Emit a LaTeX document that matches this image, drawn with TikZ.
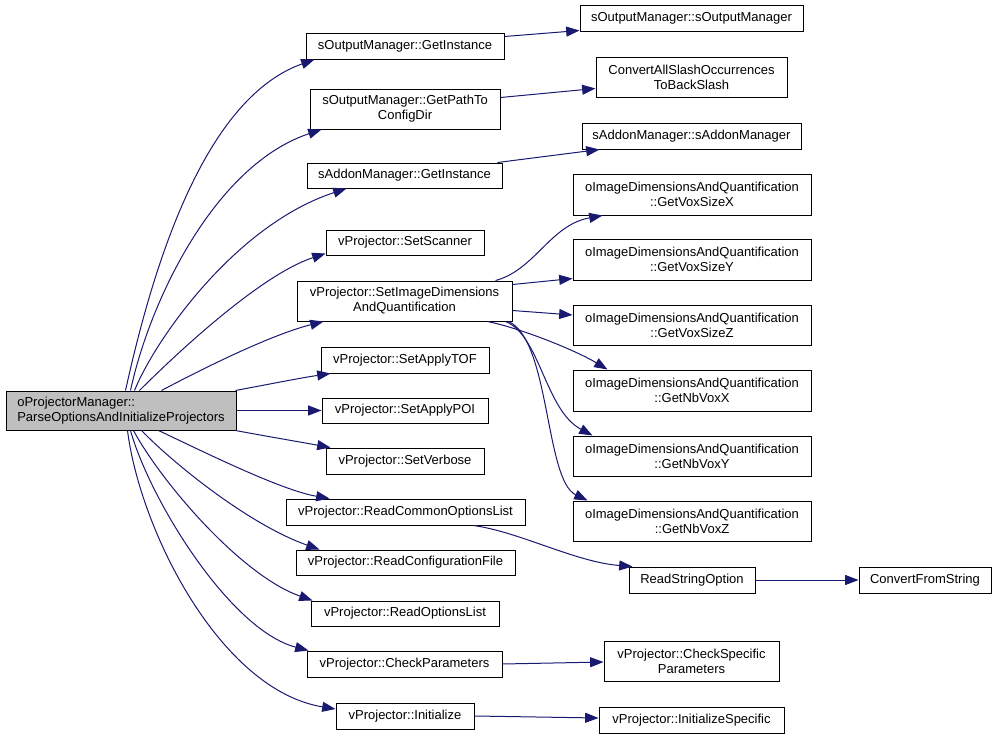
\documentclass[tikz,border=0pt]{standalone}
\usepackage{fontspec}
\setmainfont{Liberation Sans}
\usetikzlibrary{arrows.meta,calc}
\definecolor{edgeblue}{HTML}{191970}
\definecolor{rootgray}{HTML}{BFBFBF}
\begin{document}
\begin{tikzpicture}[x=0.75pt,y=-0.75pt,
  fn/.style 2 args={draw=black,line width=0.75pt,fill=white,inner sep=0pt,align=center,
    minimum width=#1*0.75pt,minimum height=#2*0.75pt,
    font=\fontsize{9.75}{11.25}\selectfont},
  edge/.style={draw=edgeblue,line width=0.75pt,-{Triangle[length=10pt,width=7.5pt]}}]
\useasboundingbox (0,0) rectangle (997,739);
% root
\node[fn={230}{39},fill=rootgray,align=left] (root) at (121,410.5) {oProjectorManager::\\ParseOptionsAndInitializeProjectors};
% column 1
\node[fn={198}{26}] (gi) at (405,46) {sOutputManager::GetInstance};
\node[fn={190}{40}] (gp) at (405,109) {sOutputManager::GetPathTo\\ConfigDir};
\node[fn={195}{25}] (ag) at (404.5,175.5) {sAddonManager::GetInstance};
\node[fn={158}{25}] (ss) at (405,242.5) {vProjector::SetScanner};
\node[fn={215}{40}] (sid) at (404.5,301) {vProjector::SetImageDimensions\\AndQuantification};
\node[fn={168}{26}] (tof) at (405,360) {vProjector::SetApplyTOF};
\node[fn={166}{25}] (poi) at (405,410.5) {vProjector::SetApplyPOI};
\node[fn={158}{26}] (vb) at (405,461) {vProjector::SetVerbose};
\node[fn={239}{26}] (rcol) at (405.5,512) {vProjector::ReadCommonOptionsList};
\node[fn={219}{25}] (rcf) at (405.5,562.5) {vProjector::ReadConfigurationFile};
\node[fn={188}{25}] (rol) at (405,613.5) {vProjector::ReadOptionsList};
\node[fn={195}{26}] (cp) at (404.5,664) {vProjector::CheckParameters};
\node[fn={138}{26}] (ini) at (405,716) {vProjector::Initialize};
% column 2
\node[fn={223}{26}] (som) at (691.5,18) {sOutputManager::sOutputManager};
\node[fn={191}{40}] (cas) at (691.5,77) {ConvertAllSlashOccurrences\\ToBackSlash};
\node[fn={219}{26}] (sam) at (691.5,136) {sAddonManager::sAddonManager};
\node[fn={238}{41}] (vx) at (692,194.5) {oImageDimensionsAndQuantification\\::GetVoxSizeX};
\node[fn={238}{41}] (vy) at (692,259.5) {oImageDimensionsAndQuantification\\::GetVoxSizeY};
\node[fn={238}{40}] (vz) at (692,325) {oImageDimensionsAndQuantification\\::GetVoxSizeZ};
\node[fn={238}{41}] (nx) at (692,390.5) {oImageDimensionsAndQuantification\\::GetNbVoxX};
\node[fn={238}{40}] (ny) at (692,456) {oImageDimensionsAndQuantification\\::GetNbVoxY};
\node[fn={238}{40}] (nz) at (692,521) {oImageDimensionsAndQuantification\\::GetNbVoxZ};
\node[fn={126}{26}] (rso) at (692,580) {ReadStringOption};
\node[fn={175}{40}] (csp) at (691.5,661) {vProjector::CheckSpecific\\Parameters};
\node[fn={185}{26}] (isp) at (691.5,720) {vProjector::InitializeSpecific};
% column 3
\node[fn={132}{26}] (cfs) at (925,580) {ConvertFromString};
% edges from root
\draw[edge] ($(root.north west)+(120,0)$) .. controls (150,280) and (200,100) .. ($(gi.south west)+(9,0)$);
\draw[edge] ($(root.north west)+(125,0)$) .. controls (150,300) and (215,165) .. ($(gp.south west)+(12,0)$);
\draw[edge] ($(root.north west)+(129,0)$) .. controls (155,340) and (235,225) .. ($(ag.south west)+(40,0)$);
\draw[edge] ($(root.north west)+(134,0)$) .. controls (175,355) and (260,275) .. ($(ss.south west)+(0,-2)$);
\draw[edge] ($(root.north west)+(156,0)$) .. controls (200,370) and (270,335) .. ($(sid.south west)+(27,0)$);
\draw[edge] ($(root.north east)+(-1,0)$) .. controls (265,385) and (300,378) .. ($(tof.south west)+(10,0)$);
\draw[edge] (root.east) -- (poi.west);
\draw[edge] ($(root.south east)+(-1,0)$) .. controls (265,436) and (300,442) .. ($(vb.north west)+(5,0)$);
\draw[edge] ($(root.south west)+(153,0)$) .. controls (200,450) and (280,490) .. ($(rcol.north west)+(44,0)$);
\draw[edge] ($(root.south west)+(136,0)$) .. controls (175,465) and (250,525) .. ($(rcf.north west)+(24,0)$);
\draw[edge] ($(root.south west)+(128,0)$) .. controls (160,480) and (240,575) .. ($(rol.north west)+(2,0)$);
\draw[edge] ($(root.south west)+(125,0)$) .. controls (150,500) and (230,630) .. ($(cp.north west)+(2,0)$);
\draw[edge] ($(root.south west)+(122,0)$) .. controls (140,530) and (220,690) .. ($(ini.west)+(0,-7)$);
% second level
\draw[edge] ($(gi.north east)+(0,4)$) -- ($(som.south west)+(0,-1)$);
\draw[edge] ($(gp.north east)+(0,9)$) -- ($(cas.south west)+(0,-9)$);
\draw[edge] ($(ag.north east)+(-5,0)$) -- ($(sam.south west)+(18,0)$);
\draw[edge] ($(sid.north east)+(-17,0)$) .. controls (535,270) and (550,225) .. ($(vx.south west)+(30,0)$);
\draw[edge] ($(sid.north east)+(0,4)$) -- ($(vy.south west)+(0,-2)$);
\draw[edge] ($(sid.south east)+(0,-11)$) -- ($(vz.west)+(0,-10)$);
\draw[edge] ($(sid.south east)+(-25,0)$) .. controls (520,328) and (575,350) .. ($(nx.north west)+(35,0)$);
\draw[edge] ($(sid.south east)+(-7,0)$) .. controls (540,335) and (545,410) .. ($(ny.north west)+(20,0)$);
\draw[edge] ($(sid.south east)+(-4,0)$) .. controls (550,340) and (545,480) .. ($(nz.north west)+(15,0)$);
\draw[edge] ($(rcol.south east)+(-52,0)$) .. controls (520,532) and (575,562) .. ($(rso.north west)+(4,0)$);
\draw[edge] (rso.east) -- (cfs.west);
\draw[edge] (cp.east) -- ($(csp.west)+(0,1)$);
\draw[edge] (ini.east) -- ($(isp.west)+(0,-2)$);
\end{tikzpicture}
\end{document}
